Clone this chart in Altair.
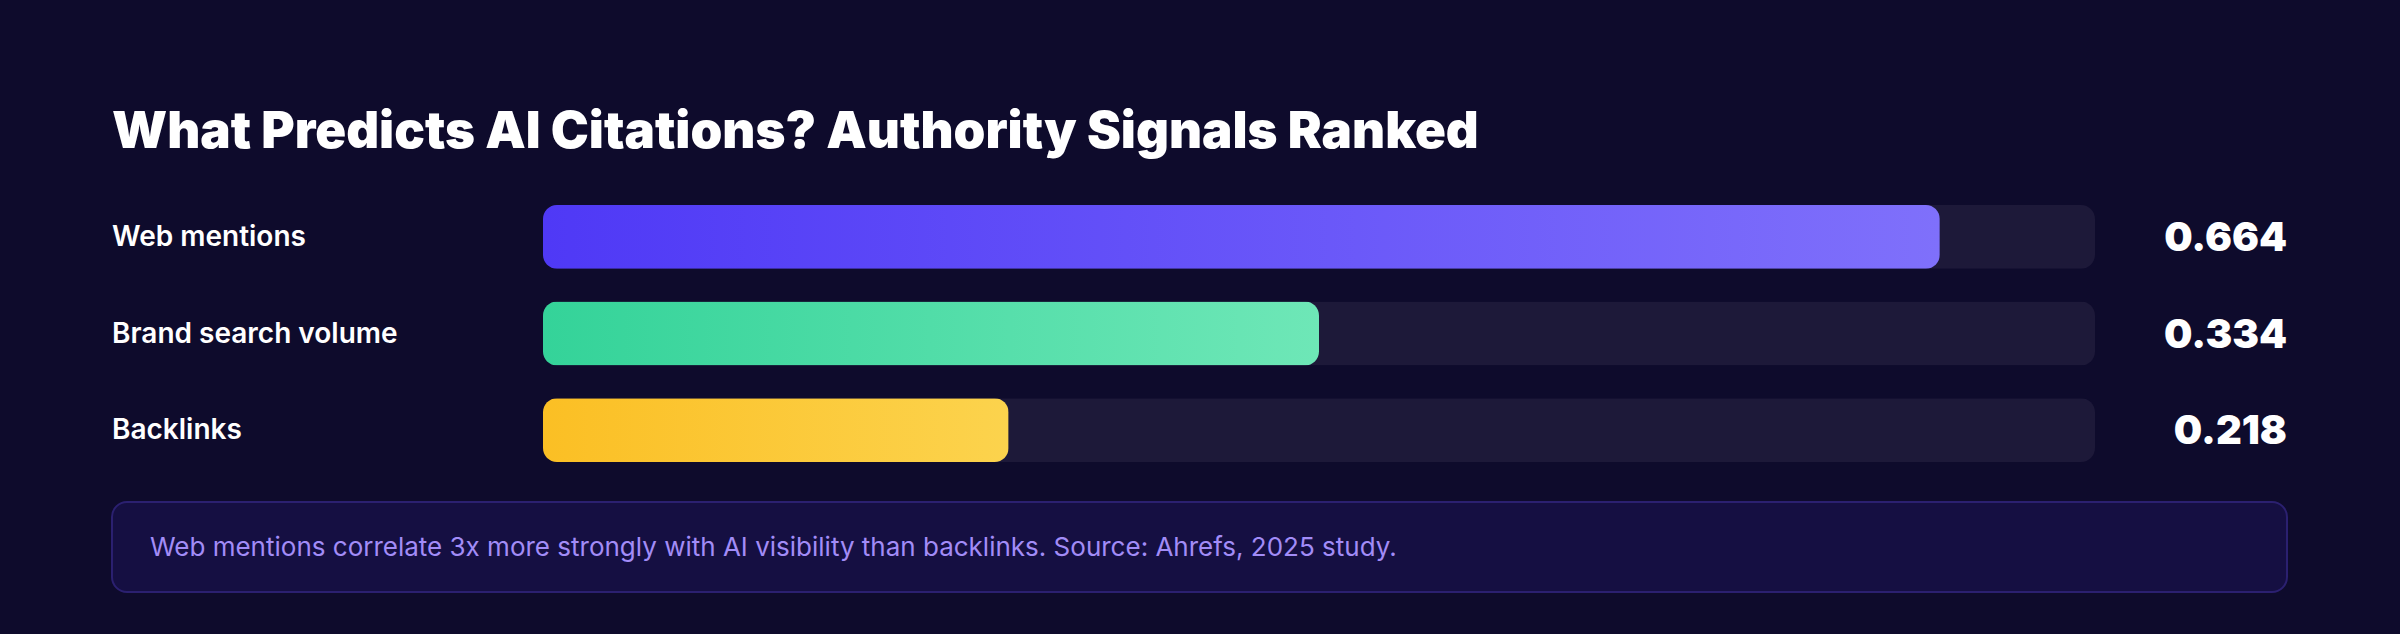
import altair as alt
import pandas as pd

# ---- data ----
title_text = "What Predicts AI Citations? Authority Signals Ranked"
categories = ["Web mentions", "Brand search volume", "Backlinks"]
values = [0.664, 0.334, 0.218]
value_labels = ["0.664", "0.334", "0.218"]
fill_pct = [90, 50, 30]          # filled share of each track (%), as drawn
track_pct = [100, 100, 100]
note_text = ("Web mentions correlate 3x more strongly with AI visibility than "
             "backlinks. Source: Ahrefs, 2025 study.")

# ---- styling ----
BG = "#0e0b2c"
TRACK = "#1d1939"
grad_start = ["#4f39f6", "#34d399", "#fbbf24"]
grad_end = ["#7f70fb", "#6ee7b7", "#fcd34d"]
FONT = "Inter"

df = pd.DataFrame({
    "signal": categories,
    "value": values,
    "label": value_labels,
    "pct": fill_pct,
    "track": track_pct,
})
note_df = pd.DataFrame({"note": [note_text]})

xs = alt.Scale(domain=[0, 100], range=[543, 2095], zero=True)
ys = alt.Scale(domain=categories, range=[205, 462], paddingInner=0.34, paddingOuter=0)

Y = alt.Y("signal:N", scale=ys, axis=None)

track = alt.Chart(df).mark_bar(color=TRACK, cornerRadius=14).encode(
    x=alt.X("track:Q", scale=xs, axis=None), y=Y
)

fills = []
for cat, s, e in zip(categories, grad_start, grad_end):
    fills.append(
        alt.Chart(df)
        .transform_filter(alt.datum.signal == cat)
        .mark_bar(
            cornerRadius=14,
            color=alt.Gradient(
                gradient="linear",
                stops=[alt.GradientStop(color=s, offset=0), alt.GradientStop(color=e, offset=1)],
                x1=0, x2=1, y1=0, y2=0,
            ),
        )
        .encode(x=alt.X("pct:Q", scale=xs, axis=None), y=Y)
    )

labels = alt.Chart(df).mark_text(
    align="left", baseline="middle", font=FONT, fontSize=28, fontWeight=600,
    color="#ffffff", dy=1,
).encode(x=alt.value(112), y=Y, text="signal:N")

vals = alt.Chart(df).mark_text(
    align="right", baseline="middle", font=FONT, fontSize=40, fontWeight=900,
    color="#ffffff", dy=2,
).encode(x=alt.value(2287), y=Y, text="label:N")

note_box = alt.Chart(note_df).mark_rect(
    cornerRadius=15, fill="#150f42", stroke="#2b2070", strokeWidth=2,
).encode(x=alt.value(112), x2=alt.value(2287), y=alt.value(502), y2=alt.value(592))

note = alt.Chart(note_df).mark_text(
    align="left", baseline="middle", font=FONT, fontSize=26, color="#a28cf7",
).encode(x=alt.value(150), y=alt.value(548), text="note:N")

chart = alt.layer(track, *fills, labels, vals, note_box, note).properties(
    width=2400,
    height=634,
    padding=0,
    autosize=alt.AutoSizeParams(type="none"),
    background=BG,
    title=alt.TitleParams(
        text=title_text, anchor="start", orient="top", frame="group",
        font=FONT, fontSize=51, fontWeight=900, color="#ffffff",
        baseline="alphabetic", offset=0, dx=112, dy=199,
    ),
).configure_view(stroke=None)

chart.save("out.html", embed_options={"renderer": "svg", "actions": False})
